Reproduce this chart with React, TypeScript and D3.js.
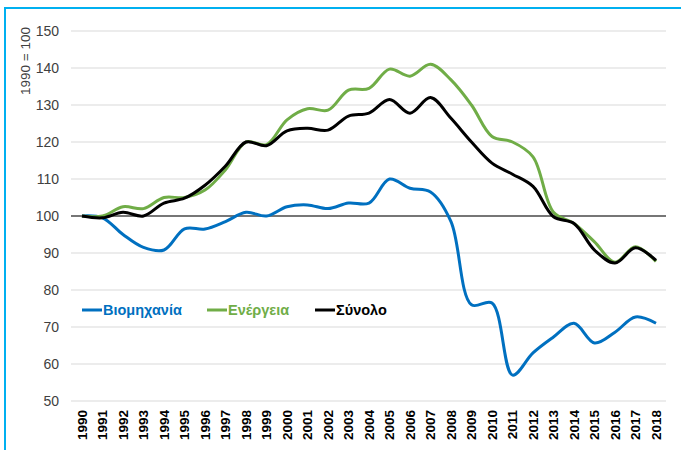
import React, { useEffect, useRef } from 'react';
import * as d3 from 'd3';

const years = d3.range(1990, 2019);

const industry = [100, 99.5, 95, 91.5, 90.8, 96.5, 96.5, 98.5, 101, 100, 102.5, 103, 102, 103.5, 103.5, 110, 107.5, 106.5, 98.5, 76, 76.5, 57, 63, 67.3, 71, 65.7, 68.6, 72.7, 71];
const energy = [100, 100, 102.5, 102, 105, 105, 107, 112.5, 120, 119.3, 126, 129, 128.6, 134, 134.5, 139.7, 137.8, 141, 136.8, 130, 121.5, 120, 116, 101, 98, 93, 87.5, 91.7, 87.7];
const total = [100, 99.5, 101, 100, 103.5, 104.8, 108.3, 113.5, 120, 119, 123, 123.7, 123.2, 127, 127.8, 131.5, 127.8, 132, 126.4, 120, 114.3, 111.3, 108, 99.8, 98, 90.8, 87.3, 91.4, 88];

const yTicks = [50, 60, 70, 80, 90, 100, 110, 120, 130, 140, 150];

const series = [
  { name: 'Βιομηχανία', values: industry, color: '#0070C0' },
  { name: 'Ενέργεια', values: energy, color: '#70AD47' },
  { name: 'Σύνολο', values: total, color: '#000000' },
];

export default function App() {
  const svgRef = useRef<SVGSVGElement>(null);

  useEffect(() => {
    if (!svgRef.current) return;
    const svg = d3.select(svgRef.current);
    svg.selectAll('*').remove();

    const width = 681;
    const height = 450;
    const font = 'Liberation Sans, Arial, sans-serif';

    svg.attr('width', width).attr('height', height);

    svg.append('rect')
      .attr('x', 5).attr('y', 8)
      .attr('width', 700).attr('height', 460)
      .attr('fill', '#fff')
      .attr('stroke', '#00B0F0')
      .attr('stroke-width', 2);

    const x = d3.scaleLinear().domain([1990, 2018]).range([82, 656]);
    const y = d3.scaleLinear().domain([50, 150]).range([401, 31]);

    // gridlines
    svg.append('g')
      .selectAll('line')
      .data(yTicks)
      .enter().append('line')
      .attr('x1', 71).attr('x2', 666)
      .attr('y1', (d) => y(d)).attr('y2', (d) => y(d))
      .attr('stroke', '#D9D9D9')
      .attr('stroke-width', 1);

    // y tick labels
    svg.append('g')
      .selectAll('text')
      .data(yTicks)
      .enter().append('text')
      .attr('x', 59)
      .attr('y', (d) => y(d))
      .attr('dy', '0.35em')
      .attr('text-anchor', 'end')
      .style('font-family', font)
      .style('font-size', '14px')
      .attr('fill', '#404040')
      .text((d) => d);

    // y title
    svg.append('text')
      .attr('transform', `translate(25, 61) rotate(-90)`)
      .attr('text-anchor', 'middle')
      .attr('dy', '0.35em')
      .style('font-family', font)
      .style('font-size', '13.5px')
      .attr('fill', '#404040')
      .text('1990 = 100');

    // x tick labels
    svg.append('g')
      .selectAll('text')
      .data(years)
      .enter().append('text')
      .attr('transform', (d) => `translate(${x(d)}, 410) rotate(-90)`)
      .attr('text-anchor', 'end')
      .attr('dy', '0.35em')
      .style('font-family', font)
      .style('font-size', '13.5px')
      .style('font-weight', 'bold')
      .attr('fill', '#000')
      .text((d) => d);

    // reference line at 100
    svg.append('line')
      .attr('x1', 71).attr('x2', 666)
      .attr('y1', y(100)).attr('y2', y(100))
      .attr('stroke', '#000')
      .attr('stroke-width', 1.2);

    const line = d3.line<number>()
      .x((_, i) => x(years[i]))
      .y((d) => y(d))
      .curve(d3.curveCatmullRom.alpha(0.5));

    svg.append('g')
      .selectAll('path')
      .data(series)
      .enter().append('path')
      .attr('d', (d) => line(d.values))
      .attr('fill', 'none')
      .attr('stroke', (d) => d.color)
      .attr('stroke-width', 3)
      .attr('stroke-linejoin', 'round');

    // legend
    const legendX = [82, 207, 315];
    const legend = svg.append('g');
    series.forEach((s, i) => {
      legend.append('line')
        .attr('x1', legendX[i]).attr('x2', legendX[i] + 20)
        .attr('y1', 310).attr('y2', 310)
        .attr('stroke', s.color)
        .attr('stroke-width', 3);
      legend.append('text')
        .attr('x', legendX[i] + 21)
        .attr('y', 310)
        .attr('dy', '0.35em')
        .style('font-family', font)
        .style('font-size', '14.5px')
        .style('font-weight', 'bold')
        .attr('fill', s.color)
        .text(s.name);
    });
  }, []);

  return (
    <div style={{ position: 'absolute', left: 0, top: 0 }}>
      <svg ref={svgRef}></svg>
    </div>
  );
}
